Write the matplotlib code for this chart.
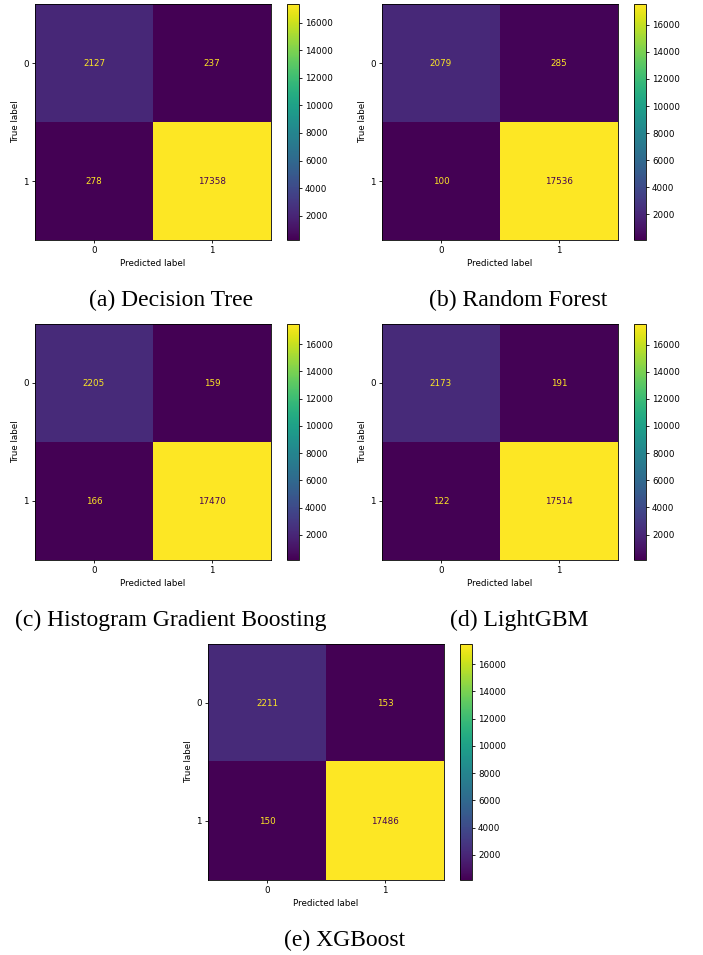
import numpy as np
import matplotlib
matplotlib.use('Agg')
import matplotlib.pyplot as plt

# confusion matrices
models = ['Decision Tree', 'Random Forest', 'Histogram Gradient Boosting', 'LightGBM', 'XGBoost']
letters = ['a', 'b', 'c', 'd', 'e']
cm_dt = [[2127, 237], [278, 17358]]
cm_rf = [[2079, 285], [100, 17536]]
cm_hgb = [[2205, 159], [166, 17470]]
cm_lgbm = [[2173, 191], [122, 17514]]
cm_xgb = [[2211, 153], [150, 17486]]
matrices = [cm_dt, cm_rf, cm_hgb, cm_lgbm, cm_xgb]
class_labels = ['0', '1']

W, H = 703, 955
fig = plt.figure(figsize=(W / 100, H / 100), dpi=100)

# left edge of the matrix and top edge, in pixels
positions = [(35, 4), (382, 4), (35, 324), (382, 324), (208, 644)]
caption_x = [171, 518, 171, 519, 345]
size = 236

def px(x, y, w, h):
    return [x / W, 1 - (y + h) / H, w / W, h / H]

cmap = plt.get_cmap('viridis')
for cm, name, letter, (x0, y0), cx in zip(matrices, models, letters, positions, caption_x):
    cm = np.array(cm)
    ax = fig.add_axes(px(x0, y0, size, size))
    im = ax.imshow(cm, cmap=cmap, aspect='auto', interpolation='nearest')
    vmin, vmax = cm.min(), cm.max()
    thresh = (vmin + vmax) / 2
    for i in range(2):
        for j in range(2):
            color = cmap(0.0) if cm[i, j] > thresh else cmap(1.0)
            ax.text(j, i, str(cm[i, j]), ha='center', va='center', color=color, fontsize=6.3)
    ax.set_xticks([0, 1])
    ax.set_yticks([0, 1])
    ax.set_xticklabels(class_labels)
    ax.set_yticklabels(class_labels)
    ax.tick_params(labelsize=6.3, length=2.2, pad=2.2, width=0.6)
    ax.set_xlabel('Predicted label', fontsize=6.3, labelpad=2.5)
    ax.set_ylabel('True label', fontsize=6.3, labelpad=2.5)
    for s in ax.spines.values():
        s.set_linewidth(0.6)
    cax = fig.add_axes(px(x0 + size + 16, y0, 12, size))
    cb = fig.colorbar(im, cax=cax)
    cb.set_ticks(np.arange(2000, 17000, 2000))
    cb.ax.tick_params(labelsize=6.3, length=2.2, pad=2.2, width=0.6)
    cb.outline.set_linewidth(0.6)
    fig.text(cx / W, 1 - (y0 + 296) / H, '(%s) %s' % (letter, name),
             ha='center', va='center', fontsize=17, family='Liberation Serif')

fig.savefig('out.png', dpi=100)
